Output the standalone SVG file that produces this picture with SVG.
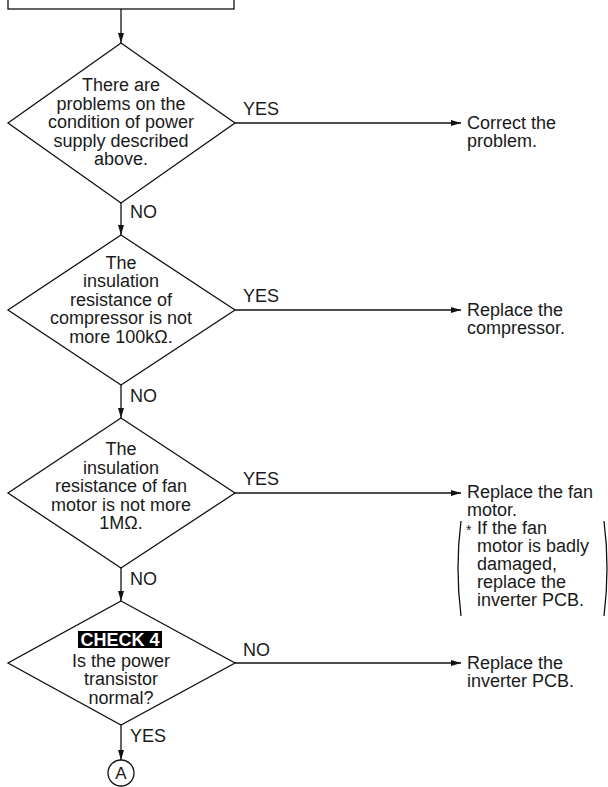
<svg xmlns="http://www.w3.org/2000/svg" width="608" height="787" viewBox="0 0 608 787">
<style>
.sh{fill:#fff;stroke:#111;stroke-width:1.3}
.ln{fill:none;stroke:#111;stroke-width:1.3}
text{font-family:"Liberation Sans",Arial,sans-serif;font-size:18px;fill:#1a1a1a}
.c{text-anchor:middle}
.b{font-weight:bold;fill:#fff}
</style>
<defs>
<marker id="ah" markerWidth="10" markerHeight="6" refX="10" refY="3" orient="auto" markerUnits="userSpaceOnUse">
<path d="M0,0 L10,3 L0,6 Z" fill="#111"/>
</marker>
</defs>
<g id="start"><rect class="sh" x="8" y="-20" width="226" height="29"/></g>
<g id="d1">
<polygon class="sh" points="121,43 235,123 121,203 8,123"/>
<text class="c" x="121" y="91">There are</text>
<text class="c" x="121" y="109.5">problems on the</text>
<text class="c" x="121" y="128">condition of power</text>
<text class="c" x="121" y="146.5">supply described</text>
<text class="c" x="121" y="165">above.</text>
</g>
<g id="r1">
<text x="467" y="129">Correct the</text>
<text x="467" y="147">problem.</text>
</g>
<g id="d2">
<polygon class="sh" points="121,235 235,310 121,385 8,310"/>
<text class="c" x="121" y="268.5">The</text>
<text class="c" x="121" y="287">insulation</text>
<text class="c" x="121" y="305.5">resistance of</text>
<text class="c" x="121" y="324">compressor is not</text>
<text class="c" x="121" y="342.5">more 100kΩ.</text>
</g>
<g id="r2">
<text x="467" y="316">Replace the</text>
<text x="467" y="334">compressor.</text>
</g>
<g id="d3">
<polygon class="sh" points="121,418 235,493 121,568 8,493"/>
<text class="c" x="121" y="455">The</text>
<text class="c" x="121" y="473.5">insulation</text>
<text class="c" x="121" y="492">resistance of fan</text>
<text class="c" x="121" y="510.5">motor is not more</text>
<text class="c" x="121" y="529">1MΩ.</text>
</g>
<g id="r3">
<text x="467" y="498">Replace the fan</text>
<text x="467" y="516">motor.</text>
<text x="466" y="535" style="font-size:14px">*</text>
<text x="477" y="534">If the fan</text>
<text x="477" y="552">motor is badly</text>
<text x="477" y="570">damaged,</text>
<text x="477" y="588">replace the</text>
<text x="477" y="606">inverter PCB.</text>
<path class="ln" d="M461,521 Q455,568 461,616"/>
<path class="ln" d="M604,521 Q610,568 604,616"/>
</g>
<g id="d4">
<polygon class="sh" points="121,601 235,663 121,725 8,663"/>
<rect x="78" y="631" width="84" height="17" fill="#000"/>
<text class="c b" x="120" y="646">CHECK 4</text>
<text class="c" x="121" y="667">Is the power</text>
<text class="c" x="121" y="685">transistor</text>
<text class="c" x="121" y="703.5">normal?</text>
</g>
<g id="r4">
<text x="467" y="669">Replace the</text>
<text x="467" y="687">inverter PCB.</text>
</g>
<g id="a">
<circle class="sh" cx="121" cy="773" r="13"/>
<text class="c" x="121" y="779" style="font-size:17px">A</text>
</g>
<g id="connectors">
<line class="ln" x1="121" y1="9" x2="121" y2="43" marker-end="url(#ah)"/>
<line class="ln" x1="121" y1="203" x2="121" y2="235" marker-end="url(#ah)"/>
<line class="ln" x1="121" y1="385" x2="121" y2="418" marker-end="url(#ah)"/>
<line class="ln" x1="121" y1="568" x2="121" y2="601" marker-end="url(#ah)"/>
<line class="ln" x1="121" y1="725" x2="121" y2="760" marker-end="url(#ah)"/>
<line class="ln" x1="235" y1="123" x2="461" y2="123" marker-end="url(#ah)"/>
<line class="ln" x1="235" y1="310" x2="461" y2="310" marker-end="url(#ah)"/>
<line class="ln" x1="235" y1="493" x2="461" y2="493" marker-end="url(#ah)"/>
<line class="ln" x1="235" y1="663" x2="461" y2="663" marker-end="url(#ah)"/>
<text x="243" y="115">YES</text>
<text x="130" y="218">NO</text>
<text x="243" y="302">YES</text>
<text x="130" y="402">NO</text>
<text x="243" y="485">YES</text>
<text x="130" y="585">NO</text>
<text x="243" y="655.5">NO</text>
<text x="130" y="742">YES</text>
</g>
</svg>
